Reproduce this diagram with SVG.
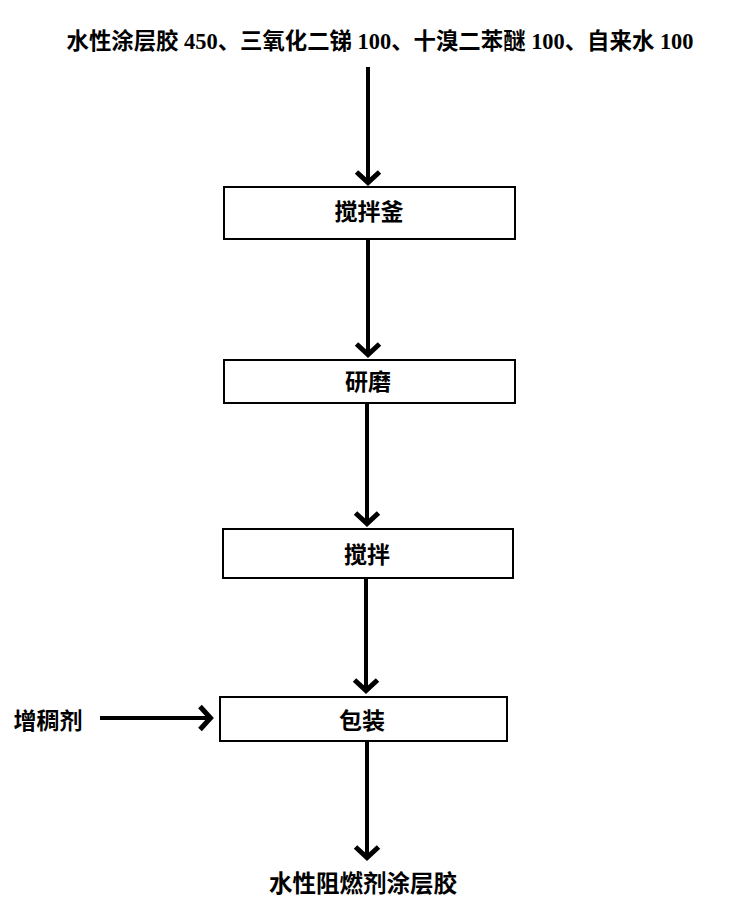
<svg xmlns="http://www.w3.org/2000/svg" width="747" height="901" viewBox="0 0 747 901">
<style>
  .bg { fill: #ffffff; }
  .box { fill: #ffffff; stroke: #000000; stroke-width: 2; }
  .lbl { font-family: "Liberation Serif", "Noto Sans CJK SC", serif; font-weight: bold; fill: #000000; text-anchor: middle; dominant-baseline: central; }
  .conn { stroke: #000000; stroke-width: 4; fill: none; marker-end: url(#arrow); }
</style>
<defs>
  <marker id="arrow" markerUnits="userSpaceOnUse" markerWidth="30" markerHeight="30" viewBox="-15 -15 30 30" refX="0" refY="0" orient="auto">
    <path d="M-12,-11.5 L-1.5,0 L-12,11.5" fill="none" stroke="#000000" stroke-width="5" stroke-linejoin="miter"/>
  </marker>
</defs>
<rect class="bg" x="0" y="0" width="747" height="901"/>
<g id="input-top">
  <text class="lbl" x="380" y="41" font-size="22.4">水性涂层胶 450、三氧化二锑 100、十溴二苯醚 100、自来水 100</text>
</g>
<g id="node-stir-kettle">
  <rect class="box" x="224" y="187" width="291" height="52"/>
  <text class="lbl" x="369" y="212" font-size="23">搅拌釜</text>
</g>
<g id="node-grind">
  <rect class="box" x="224" y="360" width="291" height="43"/>
  <text class="lbl" x="368" y="382" font-size="23">研磨</text>
</g>
<g id="node-stir">
  <rect class="box" x="223" y="529" width="290" height="49"/>
  <text class="lbl" x="367" y="555" font-size="23">搅拌</text>
</g>
<g id="node-pack">
  <rect class="box" x="220" y="697" width="287" height="44"/>
  <text class="lbl" x="362" y="721" font-size="23">包装</text>
</g>
<g id="input-thickener">
  <text class="lbl" x="48" y="721" font-size="23">增稠剂</text>
</g>
<g id="output-product">
  <text class="lbl" x="363" y="884" font-size="23.5">水性阻燃剂涂层胶</text>
</g>
<g id="connectors">
  <line class="conn" x1="368" y1="67" x2="368" y2="184"/>
  <line class="conn" x1="368" y1="239" x2="368" y2="356"/>
  <line class="conn" x1="367" y1="403" x2="367" y2="525"/>
  <line class="conn" x1="366" y1="578" x2="366" y2="692"/>
  <line class="conn" x1="367" y1="741" x2="367" y2="859"/>
  <line class="conn" x1="100" y1="718" x2="212" y2="718"/>
</g>
</svg>
